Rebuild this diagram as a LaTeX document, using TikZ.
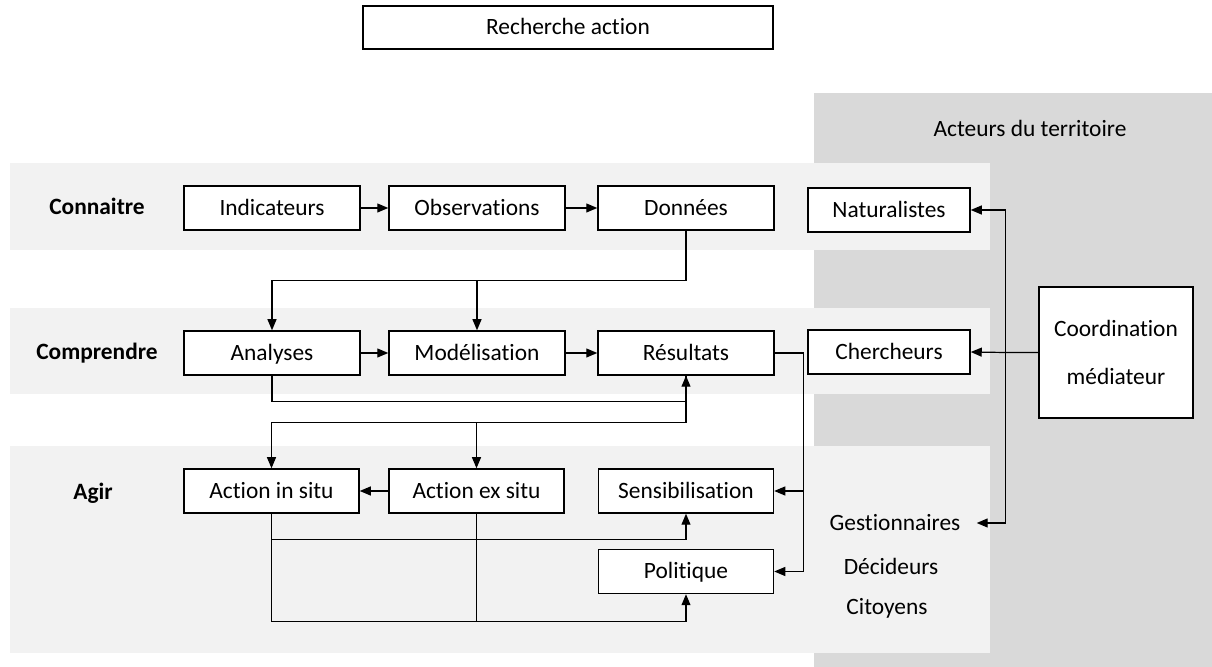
\documentclass[tikz,border=0pt]{standalone}
\usepackage{fontspec}
\setmainfont{Carlito}[Ligatures=NoCommon]
\usetikzlibrary{arrows.meta}
\definecolor{grisfonce}{RGB}{217,217,217}
\definecolor{grisclair}{RGB}{242,242,242}

\begin{document}
\begin{tikzpicture}[x=0.5pt, y=-0.5pt,
	font=\fontsize{11.7}{14}\selectfont,
	boite/.style={draw, fill=white, line width=0.75pt, minimum width=88pt, minimum height=22pt, inner sep=0pt, text height=8.4pt, text depth=1.1pt},
	fleche/.style={-{Triangle[length=5.5pt, width=4.5pt]}, line width=0.6pt},
	trait/.style={line width=0.6pt},
	etape/.style={font=\fontsize{11.7}{14}\selectfont\bfseries, text height=8.4pt, text depth=1.1pt}]
	\useasboundingbox (0,0) rectangle (1212,667);
	
	\fill[grisfonce] (814,93) rectangle (1212,667);
	\fill[grisclair] (10,163) rectangle (990,250);
	\fill[grisclair] (10,308) rectangle (990,394);
	\fill[grisclair] (10,446) rectangle (990,653);
	
	\node[boite, minimum width=205pt, minimum height=21.5pt] (recherche) at (568,27.5) {Recherche action};
	\node (acteurs) at (1030,128) {Acteurs du territoire};
	
	\node[etape] (connaitre) at (97,207) {Connaitre};
	\node[etape] (comprendre) at (97,352) {Comprendre};
	\node[etape] (agir) at (93,492) {Agir};
	
	\node[boite] (indic) at (272,208) {Indicateurs};
	\node[boite] (obs) at (477,208) {Observations};
	\node[boite] (donnees) at (686,208) {Données};
	\node[boite, minimum width=81pt] (natur) at (889,210) {Naturalistes};
	
	\node[boite] (analyses) at (272,353) {Analyses};
	\node[boite] (modelisation) at (477,353) {Modélisation};
	\node[boite] (resultats) at (686,353) {Résultats};
	\node[boite, minimum width=81pt] (cherch) at (889,352) {Chercheurs};
	\node[boite, minimum width=77pt, minimum height=65.5pt, align=center, text height=, text depth=] (coord) at (1116,352.5) {Coordination\\[10pt]médiateur};
	
	\node[boite, minimum width=87.5pt] (insitu) at (271.5,491) {Action in situ};
	\node[boite, minimum width=87.5pt] (exsitu) at (476.5,491) {Action ex situ};
	\node[boite, minimum width=87.5pt] (sensib) at (686,491) {Sensibilisation};
	\node[boite, minimum width=87.5pt] (politique) at (686,571.5) {Politique};
	
	\node[inner sep=0pt] (gest) at (895,523) {Gestionnaires};
	\node[inner sep=0pt] (decid) at (891,566) {Décideurs};
	\node[inner sep=0pt] (citoy) at (887,608) {Citoyens};
	
	\draw[fleche] (indic) -- (obs);
	\draw[fleche] (obs) -- (donnees);
	\draw[fleche] (analyses) -- (modelisation);
	\draw[fleche] (modelisation) -- (resultats);
	\draw[fleche] (exsitu) -- (insitu);
	
	\draw[fleche] (donnees.south) -- ++(0,50) coordinate (d1) -| (analyses.north);
	\draw[fleche] (d1 -| modelisation.north) -- (modelisation.north);
	
	\draw[fleche] (analyses.south) -- ++(0,26) -| (resultats.south);
	\draw[fleche] (resultats.south) -- ++(0,47) coordinate (r1) -| (insitu.north);
	\draw[fleche] (r1 -| exsitu.north) -- (exsitu.north);
	
	\draw[fleche] (resultats.east) -- ++(29,0) coordinate (r2) |- (sensib.east);
	\draw[fleche] (r2) |- (politique.east);
	
	\draw[fleche] (insitu.south) -- ++(0,26) -| (sensib.south);
	\draw[fleche] (insitu.south) -- ++(0,108) coordinate (a1) -| (politique.south);
	\draw[trait] (exsitu.south) -- (exsitu.south |- a1);
	
	\draw[fleche] (coord.west) -- ++(-33,0) coordinate (c1) -- (cherch.east);
	\draw[fleche] (c1) |- (natur.east);
	\draw[fleche, shorten >=8pt] (c1) |- (gest.east);
\end{tikzpicture}
\end{document}
